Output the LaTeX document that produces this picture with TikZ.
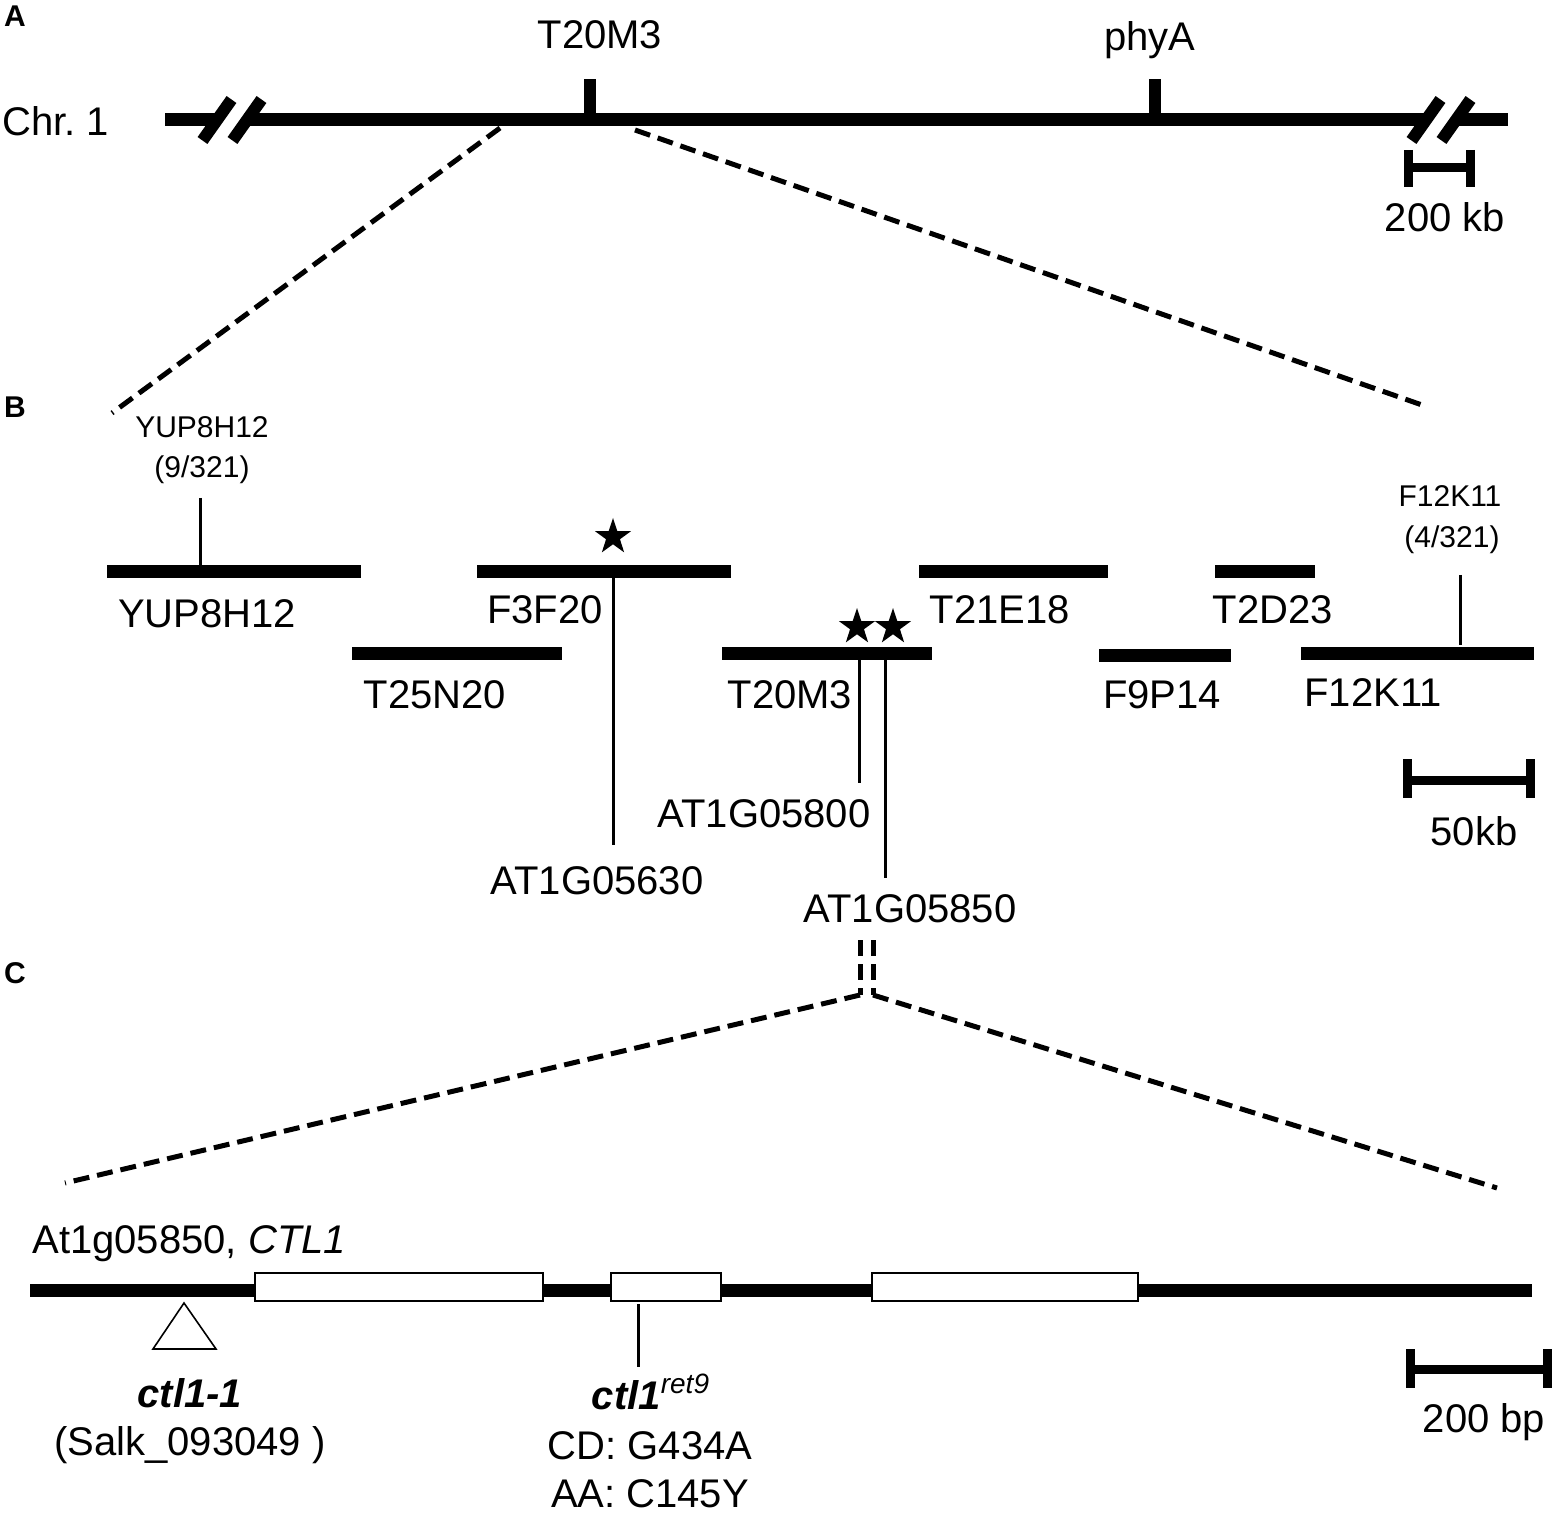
\documentclass[tikz,border=0pt]{standalone}
\usepackage{fontspec}
\setmainfont{Liberation Sans}
\usetikzlibrary{shapes.geometric}

\begin{document}
\begin{tikzpicture}
    [x=0.5pt, y=-0.5pt,
    clone/.style={line width=6.5pt},
    tickmark/.style={line width=6pt},
    brk/.style={line width=6pt},
    erase/.style={white, line width=10pt},
    marker/.style={line width=1.5pt},
    zoomline/.style={line width=2.5pt, dash pattern=on 8pt off 4pt},
    scalebar/.style={line width=4.5pt},
    exon/.style={draw=black, fill=white, line width=1pt},
    lbl/.style={font=\fontsize{20}{24}\selectfont, inner sep=0pt, anchor=base},
    small/.style={font=\fontsize{15}{18}\selectfont, inner sep=0pt, anchor=base},
    panel/.style={font=\fontsize{15}{17}\selectfont\bfseries, inner sep=0pt, anchor=base},
    starmark/.style={star, star points=5, star point ratio=2.6, fill=black, inner sep=0pt, minimum size=19pt}]
    \useasboundingbox (0,0) rectangle (1555,1514);

    % A: chromosome 1
    \node[panel] (pA) at (15,27) {A};
    \node[lbl, anchor=base west] (chr) at (2,136) {Chr.~1};
    \coordinate (chrL) at (165,120);
    \coordinate (chrR) at (1508,120);
    \draw[clone] (chrL) -- (chrR);
    \foreach \bx in {232,1441}{
        \draw[erase] (\bx-14.5,140.5) -- (\bx+14.5,99.5);
        \draw[brk] (\bx-29.5,140.5) -- (\bx-0.5,99.5);
        \draw[brk] (\bx+0.5,140.5) -- (\bx+29.5,99.5);
    }
    \coordinate (tT) at (590,120);
    \coordinate (tP) at (1155,120);
    \draw[tickmark] (tT) -- ++(0,-41);
    \draw[tickmark] (tP) -- ++(0,-41);
    \node[lbl] (lT) at (600,49) {T20M3};
    \node[lbl] (lP) at (1150,51) {phyA};
    \draw[scalebar] (1408,150) -- (1408,187) (1408,168) -- (1470,168) (1470,150) -- (1470,187);
    \node[lbl] (kb) at (1445,232) {200 kb};

    \coordinate (zA1) at (500,128);
    \coordinate (zA2) at (112,413);
    \coordinate (zA3) at (635,130);
    \coordinate (zA4) at (1422,405);
    \draw[zoomline] (zA1) -- (zA2);
    \draw[zoomline] (zA3) -- (zA4);

    % B: BAC contig
    \node[panel] (pB) at (15,418) {B};
    \foreach \n/\xa/\xb/\y/\lx/\ly/\t in {
        yup/107/361/572/207/627/YUP8H12,
        f3f/477/731/572/545/624/F3F20,
        t25/352/562/653/435/708/T25N20,
        t20/722/932/653/790/708/T20M3,
        t21/919/1108/572/1000/624/T21E18,
        t2d/1215/1315/572/1273/624/T2D23,
        f9p/1099/1231/655/1162/708/F9P14,
        f12/1301/1534/653/1373/706/F12K11}{
        \coordinate (\n-l) at (\xa,\y);
        \coordinate (\n-r) at (\xb,\y);
        \draw[clone] (\n-l) -- (\n-r);
        \node[lbl] (\n-name) at (\lx,\ly) {\t};
    }

    \node[small] (yupm) at (202,438) {YUP8H12};
    \node[small] (yupr) at (202,478) {(9/321)};
    \coordinate (yupa) at (200,498);
    \coordinate (yupb) at (200,568);
    \draw[marker] (yupa) -- (yupb);
    \node[small] (f12m) at (1450,507) {F12K11};
    \node[small] (f12r) at (1452,548) {(4/321)};
    \coordinate (f12a) at (1460,575);
    \coordinate (f12b) at (1460,645);
    \draw[marker] (f12a) -- (f12b);

    \node[starmark] (s1) at (613,537) {};
    \node[starmark] (s2) at (857,627) {};
    \node[starmark] (s3) at (893,627) {};

    \coordinate (g630a) at (613,575);
    \coordinate (g630b) at (613,845);
    \draw[marker] (g630a) -- (g630b);
    \node[lbl] (g630) at (597,894) {AT1G05630};
    \coordinate (g800a) at (859,656);
    \coordinate (g800b) at (859,783);
    \draw[marker] (g800a) -- (g800b);
    \node[lbl] (g800) at (764,827) {AT1G05800};
    \coordinate (g850a) at (885,656);
    \coordinate (g850b) at (885,878);
    \draw[marker] (g850a) -- (g850b);
    \node[lbl] (g850) at (910,922) {AT1G05850};

    \draw[scalebar] (1407,759) -- (1407,798) (1407,780) -- (1530,780) (1530,759) -- (1530,798);
    \node[lbl] (kb50) at (1474,845) {50kb};

    % C: gene structure
    \node[panel] (pC) at (15,983) {C};
    \coordinate (zC1) at (860,940);
    \coordinate (zC2) at (860,995);
    \coordinate (zC3) at (873,940);
    \coordinate (zC4) at (873,995);
    \draw[zoomline] (zC1) -- (zC2);
    \draw[zoomline] (zC3) -- (zC4);
    \coordinate (zC5) at (65,1183);
    \coordinate (zC6) at (1497,1188);
    \draw[zoomline] (zC2) -- (zC5);
    \draw[zoomline] (zC4) -- (zC6);

    \node[lbl, anchor=base west] (gene) at (32,1253) {At1g05850, \textit{CTL1}};
    \coordinate (geneL) at (30,1290);
    \coordinate (geneR) at (1532,1290);
    \draw[clone] (geneL) -- (geneR);
    \draw[exon] (255,1273) rectangle (543,1301);
    \draw[exon] (611,1273) rectangle (721,1301);
    \draw[exon] (872,1273) rectangle (1138,1301);

    \draw[line width=0.8pt, fill=white] (184,1303) -- (216,1349) -- (153,1349) -- cycle;
    \node[lbl] (ctla) at (190,1407) {\textbf{\textit{ctl1-1}}};
    \node[lbl] (salk) at (190,1455) {(Salk\_093049 )};

    \coordinate (reta) at (638,1304);
    \coordinate (retb) at (638,1367);
    \draw[marker] (reta) -- (retb);
    \node[lbl] (ret) at (651,1409) {\textbf{\textit{ctl1}}\textsuperscript{\textit{ret9}}};
    \node[lbl] (cd) at (650,1459) {CD: G434A};
    \node[lbl] (aa) at (650,1507) {AA: C145Y};

    \draw[scalebar] (1410,1349) -- (1410,1388) (1410,1369) -- (1547,1369) (1547,1349) -- (1547,1388);
    \node[lbl] (bp) at (1484,1432) {200 bp};
\end{tikzpicture}
\end{document}
